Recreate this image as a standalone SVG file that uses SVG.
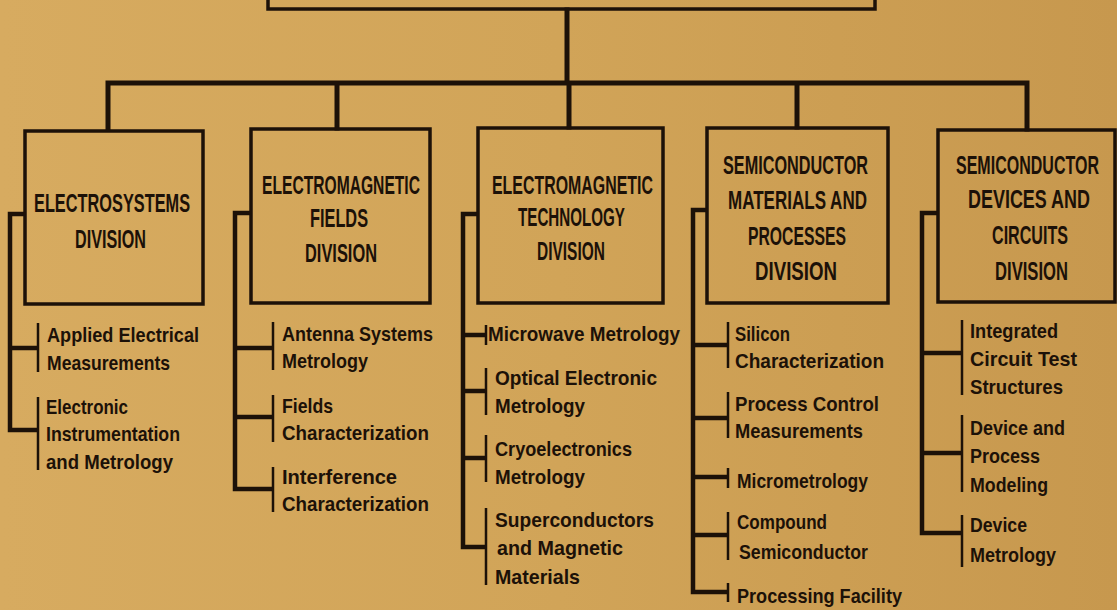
<svg xmlns="http://www.w3.org/2000/svg" width="1117" height="610" viewBox="0 0 1117 610">
<defs>
<linearGradient id="bg" x1="0" y1="0" x2="1" y2="0">
<stop offset="0" stop-color="#D7AB60"/>
<stop offset="0.5" stop-color="#D1A458"/>
<stop offset="1" stop-color="#C7984E"/>
</linearGradient>
</defs>
<style>
.box{fill:none;stroke:#1c1108;stroke-width:3.5}
.tree{fill:none;stroke:#1c1108;stroke-width:5;stroke-linecap:square}
.br{fill:none;stroke:#1c1108;stroke-width:4.5}
.tick{fill:none;stroke:#1c1108;stroke-width:2.5}
.t{font-family:"Liberation Sans",Arial,sans-serif;font-weight:bold;fill:#1c1108}
.h{font-size:26px}
.s{font-size:21px}
</style>
<rect width="1117" height="610" fill="url(#bg)"/>
<g id="top">
<rect class="box" x="268" y="-20" width="607" height="29"/>
</g>
<g id="connectors">
<path class="tree" d="M567 10V83M108 83H1027M108 83V129M337 83V128M569 83V127M797 83V127M1027 83V129"/>
<path class="br" d="M25 214H10V430H38M10 348H38"/>
<path class="tick" d="M38 323V372M38 397V470"/>
<path class="br" d="M251 213H235V489H273M235 348H273M235 417H273"/>
<path class="tick" d="M273 322V370M273 395V442M273 467V512"/>
<path class="br" d="M478 214H463V547H486M463 335H486M463 391H486M463 458H486"/>
<path class="tick" d="M486 325V345M486 368V415M486 435V482M486 508V585"/>
<path class="br" d="M707 210H693V592H728M693 345H728M693 418H728M693 477H728M693 535H728"/>
<path class="tick" d="M728 322V368M728 392V438M728 468V488M728 512V560M728 583V602"/>
<path class="br" d="M938 213H922V533H962M922 353H962M922 453H962"/>
<path class="tick" d="M962 320V395M962 415V492M962 515V567"/>
</g>
<g id="div1">
<rect class="box" x="25" y="131" width="178" height="173"/>
<text class="t h" transform="translate(34,212) scale(0.72,1)" textLength="216.7" lengthAdjust="spacingAndGlyphs">ELECTROSYSTEMS</text>
<text class="t h" transform="translate(75,248) scale(0.72,1)" textLength="98.6" lengthAdjust="spacingAndGlyphs">DIVISION</text>
</g>
<g id="div1-items">
<text class="t s" x="47" y="342" textLength="152" lengthAdjust="spacingAndGlyphs">Applied Electrical</text>
<text class="t s" x="47" y="370" textLength="123" lengthAdjust="spacingAndGlyphs">Measurements</text>
<text class="t s" x="46" y="414" textLength="82" lengthAdjust="spacingAndGlyphs">Electronic</text>
<text class="t s" x="46" y="441" textLength="134" lengthAdjust="spacingAndGlyphs">Instrumentation</text>
<text class="t s" x="46" y="469" textLength="127" lengthAdjust="spacingAndGlyphs">and Metrology</text>
</g>
<g id="div2">
<rect class="box" x="251" y="129" width="179" height="174"/>
<text class="t h" transform="translate(262,194) scale(0.72,1)" textLength="219.4" lengthAdjust="spacingAndGlyphs">ELECTROMAGNETIC</text>
<text class="t h" transform="translate(310,227) scale(0.72,1)" textLength="80.6" lengthAdjust="spacingAndGlyphs">FIELDS</text>
<text class="t h" transform="translate(305,262) scale(0.72,1)" textLength="100" lengthAdjust="spacingAndGlyphs">DIVISION</text>
</g>
<g id="div2-items">
<text class="t s" x="282" y="341" textLength="151" lengthAdjust="spacingAndGlyphs">Antenna Systems</text>
<text class="t s" x="282" y="368" textLength="86" lengthAdjust="spacingAndGlyphs">Metrology</text>
<text class="t s" x="282" y="413" textLength="51" lengthAdjust="spacingAndGlyphs">Fields</text>
<text class="t s" x="282" y="440" textLength="147" lengthAdjust="spacingAndGlyphs">Characterization</text>
<text class="t s" x="282" y="484" textLength="115" lengthAdjust="spacingAndGlyphs">Interference</text>
<text class="t s" x="282" y="511" textLength="147" lengthAdjust="spacingAndGlyphs">Characterization</text>
</g>
<g id="div3">
<rect class="box" x="478" y="128" width="185" height="175"/>
<text class="t h" transform="translate(492,194) scale(0.72,1)" textLength="223.6" lengthAdjust="spacingAndGlyphs">ELECTROMAGNETIC</text>
<text class="t h" transform="translate(518,226) scale(0.72,1)" textLength="148.6" lengthAdjust="spacingAndGlyphs">TECHNOLOGY</text>
<text class="t h" transform="translate(537,260) scale(0.72,1)" textLength="94.4" lengthAdjust="spacingAndGlyphs">DIVISION</text>
</g>
<g id="div3-items">
<text class="t s" x="488" y="341" textLength="192" lengthAdjust="spacingAndGlyphs">Microwave Metrology</text>
<text class="t s" x="495" y="385" textLength="162" lengthAdjust="spacingAndGlyphs">Optical Electronic</text>
<text class="t s" x="495" y="413" textLength="90" lengthAdjust="spacingAndGlyphs">Metrology</text>
<text class="t s" x="495" y="456" textLength="137" lengthAdjust="spacingAndGlyphs">Cryoelectronics</text>
<text class="t s" x="495" y="484" textLength="90" lengthAdjust="spacingAndGlyphs">Metrology</text>
<text class="t s" x="495" y="527" textLength="159" lengthAdjust="spacingAndGlyphs">Superconductors</text>
<text class="t s" x="497" y="555" textLength="126" lengthAdjust="spacingAndGlyphs">and Magnetic</text>
<text class="t s" x="495" y="584" textLength="85" lengthAdjust="spacingAndGlyphs">Materials</text>
</g>
<g id="div4">
<rect class="box" x="707" y="128" width="181" height="175"/>
<text class="t h" transform="translate(723,174) scale(0.72,1)" textLength="201.4" lengthAdjust="spacingAndGlyphs">SEMICONDUCTOR</text>
<text class="t h" transform="translate(728,209) scale(0.72,1)" textLength="193" lengthAdjust="spacingAndGlyphs">MATERIALS AND</text>
<text class="t h" transform="translate(748,245) scale(0.72,1)" textLength="136.1" lengthAdjust="spacingAndGlyphs">PROCESSES</text>
<text class="t h" transform="translate(755,280) scale(0.72,1)" textLength="113.9" lengthAdjust="spacingAndGlyphs">DIVISION</text>
</g>
<g id="div4-items">
<text class="t s" x="735" y="341" textLength="55" lengthAdjust="spacingAndGlyphs">Silicon</text>
<text class="t s" x="735" y="368" textLength="149" lengthAdjust="spacingAndGlyphs">Characterization</text>
<text class="t s" x="735" y="411" textLength="144" lengthAdjust="spacingAndGlyphs">Process Control</text>
<text class="t s" x="735" y="438" textLength="128" lengthAdjust="spacingAndGlyphs">Measurements</text>
<text class="t s" x="737" y="488" textLength="131" lengthAdjust="spacingAndGlyphs">Micrometrology</text>
<text class="t s" x="737" y="529" textLength="90" lengthAdjust="spacingAndGlyphs">Compound</text>
<text class="t s" x="739" y="559" textLength="129" lengthAdjust="spacingAndGlyphs">Semiconductor</text>
<text class="t s" x="737" y="603" textLength="165" lengthAdjust="spacingAndGlyphs">Processing Facility</text>
</g>
<g id="div5">
<rect class="box" x="938" y="130" width="177" height="172"/>
<text class="t h" transform="translate(956,174) scale(0.6,1)" textLength="238.3" lengthAdjust="spacingAndGlyphs">SEMICONDUCTOR</text>
<text class="t h" transform="translate(968,208) scale(0.72,1)" textLength="169.4" lengthAdjust="spacingAndGlyphs">DEVICES AND</text>
<text class="t h" transform="translate(992,244) scale(0.72,1)" textLength="105.6" lengthAdjust="spacingAndGlyphs">CIRCUITS</text>
<text class="t h" transform="translate(995,280) scale(0.72,1)" textLength="101.4" lengthAdjust="spacingAndGlyphs">DIVISION</text>
</g>
<g id="div5-items">
<text class="t s" x="970" y="338" textLength="88" lengthAdjust="spacingAndGlyphs">Integrated</text>
<text class="t s" x="970" y="366" textLength="107" lengthAdjust="spacingAndGlyphs">Circuit Test</text>
<text class="t s" x="970" y="394" textLength="93" lengthAdjust="spacingAndGlyphs">Structures</text>
<text class="t s" x="970" y="435" textLength="95" lengthAdjust="spacingAndGlyphs">Device and</text>
<text class="t s" x="970" y="463" textLength="70" lengthAdjust="spacingAndGlyphs">Process</text>
<text class="t s" x="970" y="492" textLength="78" lengthAdjust="spacingAndGlyphs">Modeling</text>
<text class="t s" x="970" y="532" textLength="57" lengthAdjust="spacingAndGlyphs">Device</text>
<text class="t s" x="970" y="562" textLength="86" lengthAdjust="spacingAndGlyphs">Metrology</text>
</g>
</svg>
